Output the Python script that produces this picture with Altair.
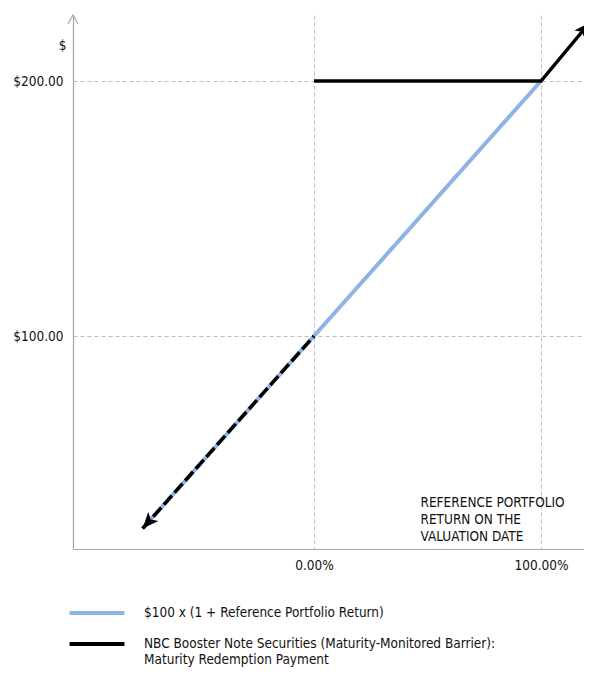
import json
import math
import altair as alt
import pandas as pd

# ---------------- data ----------------
blue_label = "$100 x (1 + Reference Portfolio Return)"
black_label_lines = ["NBC Booster Note Securities (Maturity-Monitored Barrier):",
                     "Maturity Redemption Payment"]
black_label = " ".join(black_label_lines)

ret_blue = [-0.755, 0.0, 1.0]
val_blue = [24.5, 100.0, 200.0]
ret_note = [0.0, 1.0, 1.215]
val_note = [200.0, 200.0, 223.0]
ret_down = [0.0, -0.755]
val_down = [100.0, 24.5]
y_ticks = [100, 200]
x_ticks = [0, 1]
annotation = ["REFERENCE PORTFOLIO", "RETURN ON THE", "VALUATION DATE"]

# ---------------- layout / style ----------------
X_DOMAIN = [-1.0617, 1.1894]
Y_DOMAIN = [16.47, 225.9]
W, H = 511, 534
BLUE = "#8db4e2"
BLACK = "#000000"
GRID = "#bfbfbf"
AXIS = "#a6a6a6"
FONT = "'DejaVu Sans Condensed', Roboto, sans-serif"
FS = 13.5

px_x = W / (X_DOMAIN[1] - X_DOMAIN[0])
px_y = H / (Y_DOMAIN[1] - Y_DOMAIN[0])


def heading(x0, y0, x1, y1):
    dx = (x1 - x0) * px_x
    dy = -(y1 - y0) * px_y
    return math.degrees(math.atan2(dx, -dy)) % 360


df_blue = pd.DataFrame({"ret": ret_blue, "val": val_blue, "series": blue_label})
df_note = pd.DataFrame({"ret": ret_note, "val": val_note, "series": black_label})
df_down = pd.DataFrame({"ret": ret_down, "val": val_down})
df_heads = pd.DataFrame({
    "ret": [ret_down[-1], ret_note[-1]],
    "val": [val_down[-1], val_note[-1]],
    "angle": [heading(ret_down[-2], val_down[-2], ret_down[-1], val_down[-1]),
              heading(ret_note[-2], val_note[-2], ret_note[-1], val_note[-1])],
})
df_top = pd.DataFrame({"ret": [X_DOMAIN[0]], "val": [Y_DOMAIN[1]]})

x_enc = alt.X(
    "ret:Q",
    scale=alt.Scale(domain=X_DOMAIN, nice=False, zero=False),
    axis=alt.Axis(
        values=x_ticks, format=".2%", ticks=False, labelPadding=9,
        labelFontSize=FS, labelFont=FONT, labelColor="#111",
        domainColor=AXIS, domainWidth=1.2,
        grid=True, gridColor=GRID, gridDash=[4, 3], gridWidth=1,
        title=annotation, titleX=347, titleY=-54, titleAlign="left",
        titleBaseline="top", titleFontSize=FS, titleFont=FONT,
        titleFontWeight="normal", titleLineHeight=17, titleColor="#111",
    ),
)
y_enc = alt.Y(
    "val:Q",
    scale=alt.Scale(domain=Y_DOMAIN, nice=False, zero=False),
    axis=alt.Axis(
        values=y_ticks, format="$.2f", ticks=False, labelPadding=10,
        labelFontSize=FS, labelFont=FONT, labelColor="#111",
        domainColor=AXIS, domainWidth=1.2,
        grid=True, gridColor=GRID, gridDash=[4, 3], gridWidth=1,
        title="$", titleAngle=0, titleX=-7, titleY=30, titleAlign="right",
        titleBaseline="middle", titleFontSize=FS, titleFont=FONT,
        titleFontWeight="normal", titleColor="#111",
    ),
)

label_expr = "datum.label == %s ? %s : datum.label" % (
    json.dumps(black_label), json.dumps(black_label_lines))

color_enc = alt.Color(
    "series:N",
    scale=alt.Scale(domain=[blue_label, black_label], range=[BLUE, BLACK]),
    sort=[blue_label, black_label],
    legend=alt.Legend(
        title=None, orient="none", legendX=13, legendY=587, padding=0,
        symbolType="M-3.05,0H3.05", symbolSize=324, symbolStrokeWidth=4,
        labelFontSize=FS, labelFont=FONT, labelColor="#111",
        labelOffset=36, labelLimit=600, labelBaseline="middle",
        rowPadding=12, labelExpr=label_expr,
    ),
)

blue = alt.Chart(df_blue).mark_line(strokeWidth=4).encode(
    x=x_enc, y=y_enc, color=color_enc)
note = alt.Chart(df_note).mark_line(strokeWidth=3.5, strokeJoin="miter").encode(
    x=x_enc, y=y_enc, color=color_enc)
down = alt.Chart(df_down).mark_line(strokeWidth=3.5, strokeDash=[12, 4]).encode(
    x=x_enc, y=y_enc, color=alt.value(BLACK))
heads = alt.Chart(df_heads).mark_point(
    shape="M0,0L0.8,1.9L0,1.45L-0.8,1.9Z", filled=True, size=285, opacity=1,
    strokeWidth=0,
).encode(x=x_enc, y=y_enc, angle=alt.Angle("angle:Q", scale=None),
         color=alt.value(BLACK))
top_arrow = alt.Chart(df_top).mark_point(
    shape="M-1,1.8L0,0L1,1.8", filled=False, size=100, strokeWidth=1.2,
    opacity=1,
).encode(x=x_enc, y=y_enc, color=alt.value(AXIS))

chart = alt.layer(blue, note, down, heads, top_arrow).properties(
    width=W, height=H,
    padding={"left": 65, "top": 7, "right": 0, "bottom": 118},
    autosize=alt.AutoSizeParams(type="none"),
).configure_view(stroke=None)

chart.save("out.html", embed_options={"renderer": "svg", "actions": False})
